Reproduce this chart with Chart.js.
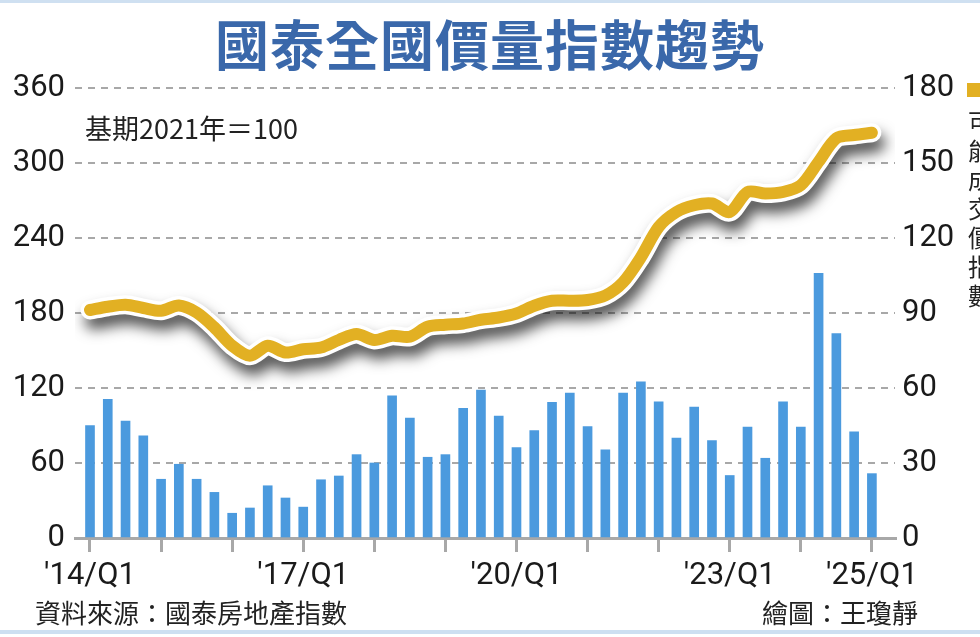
<!DOCTYPE html>
<html>
<head>
<meta charset="utf-8">
<script src="https://cdn.jsdelivr.net/npm/chart.js@4/dist/chart.umd.min.js"></script>
<style>
  html, body { margin: 0; padding: 0; background: #fff; }
  #wrap { position: relative; width: 980px; height: 637px; overflow: hidden; background: #fff; }
  #c { position: absolute; left: 0; top: 0; }
  .txt { position: absolute; white-space: nowrap; font-family: "Noto Sans CJK TC", "Noto Sans", sans-serif; }
  #title { left: 0; width: 980px; top: 8px; text-align: center; font-size: 54px; font-weight: bold; color: #3a68aa; line-height: 70px; letter-spacing: 1px; }
  #sub { left: 85px; top: 108px; font-size: 27px; color: #222; line-height: 40px; }
  #src { left: 35px; top: 594px; font-size: 26px; color: #222; line-height: 36px; }
  #drw { right: 62px; top: 594px; font-size: 26px; color: #222; line-height: 36px; }
  #legsq { position: absolute; left: 967px; top: 83px; width: 14px; height: 14px; background: #e2b023; }
  #legtx { left: 968px; top: 106px; width: 28px; font-size: 24px; line-height: 29px; color: #222; white-space: normal; word-break: break-all; }
  #topband { position: absolute; left: 0; top: 0; width: 980px; height: 3px; background: #cfe0f1; }
  #botband { position: absolute; left: 0; top: 630px; width: 980px; height: 4px; background: #cddff1; }
</style>
</head>
<body>
<div id="wrap">
  <canvas id="c" width="980" height="637"></canvas>
  <div id="topband"></div>
  <div id="botband"></div>
  <div class="txt" id="title">國泰全國價量指數趨勢</div>
  <div class="txt" id="sub">基期2021年＝100</div>
  <div class="txt" id="src">資料來源：國泰房地產指數</div>
  <div class="txt" id="drw">繪圖：王瓊靜</div>
  <div id="legsq"></div>
  <div class="txt" id="legtx">可能成交價指數</div>
</div>
<script>
// ---- data ----
const quarters = [
  "'14/Q1","'14/Q2","'14/Q3","'14/Q4",
  "'15/Q1","'15/Q2","'15/Q3","'15/Q4",
  "'16/Q1","'16/Q2","'16/Q3","'16/Q4",
  "'17/Q1","'17/Q2","'17/Q3","'17/Q4",
  "'18/Q1","'18/Q2","'18/Q3","'18/Q4",
  "'19/Q1","'19/Q2","'19/Q3","'19/Q4",
  "'20/Q1","'20/Q2","'20/Q3","'20/Q4",
  "'21/Q1","'21/Q2","'21/Q3","'21/Q4",
  "'22/Q1","'22/Q2","'22/Q3","'22/Q4",
  "'23/Q1","'23/Q2","'23/Q3","'23/Q4",
  "'24/Q1","'24/Q2","'24/Q3","'24/Q4",
  "'25/Q1"
];
// 量指數 (left axis, bars)
const volumeIndex = [
  90, 111, 93.5, 81.7, 47, 59, 47, 36.5, 19.8, 24, 41.8, 32, 24.7, 46.6, 49.6, 66.7,
  60, 113.8, 96, 64.6, 66.7, 103.7, 118.4, 97.5, 72.3, 86, 108.5, 116, 89.2, 70.5,
  116, 125, 109, 80, 104.7, 78, 50, 88.7, 63.8, 109, 88.7, 211.8, 163.6, 85, 51.5
];
// 可能成交價指數 (right axis, line)
const priceIndex = [
  91.2, 92.5, 93.3, 92, 90.9, 93, 90.2, 84.2, 76.9, 72.9, 76.9, 74.2, 75.5, 76.2,
  79.2, 81.6, 79.2, 80.9, 80.5, 84.5, 85.3, 85.8, 87.3, 88.2, 89.8, 92.9, 94.9, 94.9, 95.2, 97,
  102.3, 112.3, 124.4, 130.4, 133.1, 133.8, 130.4, 138.4, 137.8, 138.4, 141.1, 150.5, 159.9, 161.2, 162.1
];
const shownLabels = ["'14/Q1", "'17/Q1", "'20/Q1", "'23/Q1", "'25/Q1"];
const leftTicks = [0, 60, 120, 180, 240, 300, 360];
const rightTicks = [0, 30, 60, 90, 120, 150, 180];

// ---- chart ----
const volPts = volumeIndex.map((v, i) => ({ x: i, y: v }));
const pricePts = priceIndex.map((v, i) => ({ x: i, y: v }));

const shadowPlugin = {
  id: 'lineShadow',
  beforeDatasetDraw(chart, args) {
    const ds = chart.data.datasets[args.index];
    if (ds._shadow) {
      const ctx = chart.ctx;
      ctx.save();
      ctx.shadowColor = 'rgba(0,0,0,0.68)';
      ctx.shadowBlur = 14;
      ctx.shadowOffsetX = 4;
      ctx.shadowOffsetY = 10;
    }
  },
  afterDatasetDraw(chart, args) {
    const ds = chart.data.datasets[args.index];
    if (ds._shadow) chart.ctx.restore();
  }
};

const numFont = { family: 'Roboto, "Liberation Sans", sans-serif', size: 31 };

new Chart(document.getElementById('c'), {
  data: {
    datasets: [
      {
        type: 'bar', label: '量指數', data: volPts, yAxisID: 'y', xAxisID: 'x',
        backgroundColor: '#4b9ade', barThickness: 9, order: 3
      },
      {
        type: 'line', label: 'outline', data: pricePts, yAxisID: 'y2', xAxisID: 'x',
        borderColor: '#ffffff', borderWidth: 19, pointRadius: 0, tension: 0.3,
        borderCapStyle: 'round', borderJoinStyle: 'round', order: 2, _shadow: true
      },
      {
        type: 'line', label: '可能成交價指數', data: pricePts, yAxisID: 'y2', xAxisID: 'x',
        borderColor: '#e2b023', borderWidth: 12, pointRadius: 0, tension: 0.3,
        borderCapStyle: 'round', borderJoinStyle: 'round', order: 1
      }
    ]
  },
  options: {
    responsive: false,
    animation: false,
    layout: { padding: { top: 88, left: 0, right: 0, bottom: 0 } },
    plugins: { legend: { display: false }, tooltip: { enabled: false }, title: { display: false } },
    scales: {
      x: {
        type: 'linear', position: 'bottom', min: -0.844, max: 45.3, offset: false,
        afterBuildTicks(scale) {
          scale.ticks = quarters.map((q, i) => i).filter(i => quarters[i].endsWith('Q1')).map(v => ({ value: v }));
        },
        afterFit(scale) { scale.height = 99; },
        ticks: {
          autoSkip: false, maxRotation: 0, padding: 6, color: '#1a1a1a', font: numFont,
          callback(v) { const q = quarters[v]; return shownLabels.includes(q) ? q : ''; }
        },
        grid: { offset: false, drawOnChartArea: false, drawTicks: true, tickLength: 14, color: '#a8a8a8', lineWidth: 3 },
        border: { display: true, color: '#a8a8a8', width: 3 }
      },
      y: {
        type: 'linear', position: 'left', min: 0, max: 360,
        afterBuildTicks(scale) { scale.ticks = leftTicks.map(v => ({ value: v })); },
        afterFit(scale) { scale.width = 75; },
        ticks: { padding: 10, color: '#1a1a1a', font: numFont },
        grid: {
          drawTicks: false, lineWidth: 2,
          color: ctx => (ctx.tick && ctx.tick.value === 0) ? 'rgba(0,0,0,0)' : '#a8a8a8'
        },
        border: { display: false, dash: [7, 6] }
      },
      y2: {
        type: 'linear', position: 'right', min: 0, max: 180,
        afterBuildTicks(scale) { scale.ticks = rightTicks.map(v => ({ value: v })); },
        afterFit(scale) { scale.width = 85; },
        ticks: { padding: 7, color: '#1a1a1a', font: numFont },
        grid: { drawOnChartArea: false, drawTicks: false },
        border: { display: false }
      }
    }
  },
  plugins: [shadowPlugin]
});
</script>
</body>
</html>
